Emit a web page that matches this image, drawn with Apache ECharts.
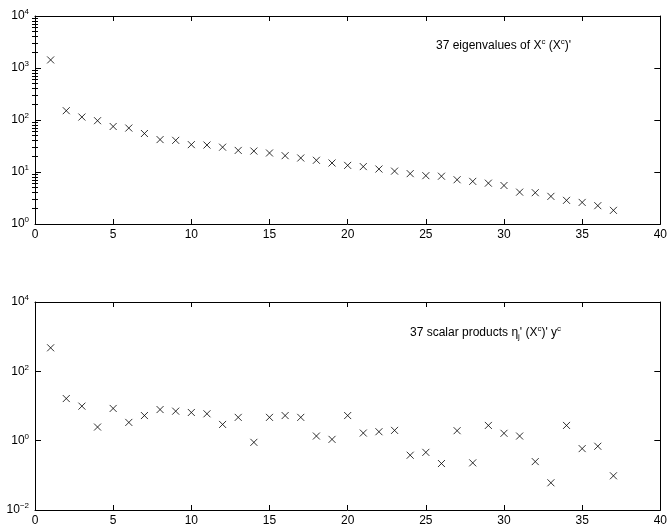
<!DOCTYPE html>
<html>
<head>
<meta charset="utf-8">
<script src="https://cdn.jsdelivr.net/npm/echarts@6/dist/echarts.min.js"></script>
<style>
  html, body { margin: 0; padding: 0; background: #fff; }
  #chart { width: 670px; height: 531px; }
</style>
</head>
<body>
<div id="chart"></div>
<script>
// component index j = 1..37
const indices = [1, 2, 3, 4, 5, 6, 7, 8, 9, 10, 11, 12, 13, 14, 15, 16, 17, 18, 19,
  20, 21, 22, 23, 24, 25, 26, 27, 28, 29, 30, 31, 32, 33, 34, 35, 36, 37];

// eigenvalues of X^c (X^c)'
const eigenvalues = [1430, 151, 114, 97, 75, 70, 55, 42, 40.6, 33.6, 33, 30, 26, 25.3,
  23.2, 20.6, 18.6, 16.8, 14.9, 13.4, 12.7, 11.4, 10.4, 9.3, 8.5, 8.3, 7.1, 6.6, 6.1,
  5.5, 4.1, 4.0, 3.4, 2.85, 2.6, 2.25, 1.83];

// scalar products eta_j' (X^c)' y^c
const scalarProducts = [477, 16.4, 9.9, 2.47, 8.5, 3.36, 5.3, 7.9, 7.1, 6.5, 5.96, 2.94,
  4.7, 0.895, 4.7, 5.3, 4.7, 1.36, 1.09, 5.3, 1.66, 1.81, 1.98, 0.38, 0.46, 0.219, 1.94,
  0.229, 2.75, 1.63, 1.36, 0.249, 0.061, 2.75, 0.59, 0.69, 0.097];

// axis ticks
const xTicks = [0, 5, 10, 15, 20, 25, 30, 35, 40];
const topDecades = [1, 10, 100, 1000, 10000];
const topMinor = [2, 3, 4, 5, 6, 7, 8, 9, 20, 30, 40, 50, 60, 70, 80, 90,
  200, 300, 400, 500, 600, 700, 800, 900, 2000, 3000, 4000, 5000, 6000, 7000, 8000, 9000];
const bottomDecades = [0.01, 1, 100, 10000];

const FONT = 'Liberation Sans, Arial, Helvetica, sans-serif';
const INK = '#000';

const powLabel = v => {
  const e = Math.round(Math.log10(v));
  return '{b|10}{e|' + (e < 0 ? '\u2212' + (-e) : e) + '}';
};
const powRich = {
  b: { fontSize: 12, lineHeight: 16, fontFamily: FONT, color: INK },
  e: { fontSize: 8, lineHeight: 8, verticalAlign: 'top', fontFamily: FONT, color: INK }
};

const grids = [
  { left: 35, top: 16, width: 627, height: 208 },
  { left: 35, top: 302, width: 627, height: 208 }
];

function xAxes(gridIndex) {
  return [
    {
      gridIndex, type: 'value', position: 'bottom', min: 0, max: 40, interval: 5,
      axisLine: { onZero: false, lineStyle: { color: INK, width: 1 } },
      axisTick: { inside: true, length: 5, lineStyle: { color: INK } },
      axisLabel: { margin: 5, fontSize: 12, fontFamily: FONT, color: INK },
      splitLine: { show: false }
    },
    {
      gridIndex, type: 'value', position: 'top', min: 0, max: 40, interval: 5,
      axisLine: { onZero: false, lineStyle: { color: INK, width: 1 } },
      axisTick: { inside: true, length: 5, lineStyle: { color: INK } },
      axisLabel: { show: false },
      splitLine: { show: false }
    }
  ];
}

function yAxis(gridIndex, pos, min, max, major, showLabel) {
  return {
    gridIndex, type: 'log', logBase: 10, position: pos, min, max,
    axisLine: { onZero: false, lineStyle: { color: INK, width: 1 } },
    axisTick: { inside: true, length: 6, customValues: major, lineStyle: { color: INK } },
    axisLabel: {
      show: showLabel, customValues: major, margin: 6,
      formatter: powLabel, rich: powRich
    },
    splitLine: { show: false }
  };
}

function minorAxis(gridIndex, pos, min, max, vals) {
  return {
    gridIndex, type: 'log', logBase: 10, position: pos, min, max,
    axisLine: { show: false },
    axisTick: { inside: true, length: 3, customValues: vals, lineStyle: { color: INK } },
    axisLabel: { show: false },
    splitLine: { show: false }
  };
}

const cross = 'path://M0,0L10,10M10,0L0,10';
function crosses(values, xAxisIndex, yAxisIndex) {
  return {
    type: 'scatter', xAxisIndex, yAxisIndex, silent: true,
    symbol: cross, symbolSize: 7,
    itemStyle: { color: 'none', borderColor: INK, borderWidth: 1 },
    data: indices.map((j, i) => [j, values[i]])
  };
}

const chart = echarts.init(document.getElementById('chart'), null, { renderer: 'canvas' });
chart.setOption({
  animation: false,
  backgroundColor: '#fff',
  grid: grids,
  xAxis: [...xAxes(0), ...xAxes(1)],
  yAxis: [
    yAxis(0, 'left', 1, 10000, topDecades, true),      // 0
    yAxis(0, 'right', 1, 10000, topDecades, false),    // 1
    minorAxis(0, 'left', 1, 10000, topMinor),          // 2
    minorAxis(0, 'right', 1, 10000, topMinor),         // 3
    yAxis(1, 'left', 0.01, 10000, bottomDecades, true),   // 4
    yAxis(1, 'right', 0.01, 10000, bottomDecades, false)  // 5
  ],
  series: [
    crosses(eigenvalues, 0, 0),
    crosses(scalarProducts, 2, 4)
  ],
  graphic: [
    {
      type: 'text', left: 436, top: 38, silent: true,
      style: {
        text: "37 eigenvalues of X{sup|c} (X{sup|c})'",
        fontSize: 12, lineHeight: 16, fontFamily: FONT, fill: INK,
        rich: { sup: { fontSize: 8, lineHeight: 8, verticalAlign: 'top', fontFamily: FONT, fill: INK } }
      }
    },
    {
      type: 'text', left: 410, top: 325, silent: true,
      style: {
        text: "37 scalar products \u03b7{sub|j}' (X{sup|c})' y{sup|c}",
        fontSize: 12, lineHeight: 16, fontFamily: FONT, fill: INK,
        rich: {
          sup: { fontSize: 8, lineHeight: 8, verticalAlign: 'top', fontFamily: FONT, fill: INK },
          sub: { fontSize: 8, lineHeight: 8, verticalAlign: 'bottom', fontFamily: FONT, fill: INK, padding: [0, 0, 0, 0] }
        }
      }
    }
  ]
});
</script>
</body>
</html>
